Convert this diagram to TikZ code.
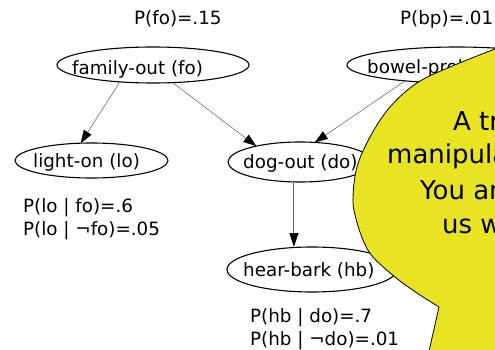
\documentclass[tikz,border=0pt]{standalone}
\usepackage{fontspec}
\setmainfont{DejaVu Sans}
\usetikzlibrary{shapes.geometric,arrows.meta}
\definecolor{bubyellow}{RGB}{232,228,34}
\begin{document}
\begin{tikzpicture}[x=1pt,y=-1pt,
  ell/.style={draw, ellipse, line width=1.1pt, outer sep=0pt, inner sep=0pt},
  lbl/.style={anchor=base west, inner sep=0pt, font=\fontsize{18.3}{22}\selectfont},
  bubtxt/.style={anchor=base west, inner sep=0pt, font=\fontsize{26}{30}\selectfont},
  arr/.style={draw=black!65, line width=0.5pt, -{Triangle[length=13pt,width=9pt,black]}},
  arrv/.style={draw=black!60, line width=1pt, -{Triangle[length=14pt,width=9pt,black]}},
  bubline/.style={draw=black, line width=0.8pt}
]
\useasboundingbox (0,0) rectangle (495,350);
\clip (0,0) rectangle (495,350);

% ellipses
\node[ell, minimum width=192pt, minimum height=36pt] (fo) at (153,65) {};
\node[ell, minimum width=153pt, minimum height=35pt] (lo) at (91.5,160.5) {};
\node[ell, minimum width=144pt, minimum height=40pt] (do) at (300,162) {};
\node[ell, minimum width=170pt, minimum height=45pt] (hb) at (312,269.5) {};
\node[ell, minimum width=220pt, minimum height=36pt] (bp) at (457,65) {};

% node texts
\node[lbl] (fot) at (72,75) {family-out (fo)};
\node[lbl] (lot) at (33,167) {light-on (lo)};
\node[lbl] (dot) at (243,168) {dog-out (do)};
\node[lbl] (hbt) at (243,276) {hear-bark (hb)};
\node[lbl] (bpt) at (367,74) {bowel-problem (bp)};

% probabilities
\node[lbl] (pfo) at (134,25) {P(fo)=.15};
\node[lbl] (pbp) at (400,25) {P(bp)=.01};
\node[lbl] (plo1) at (23,212) {P(lo | fo)=.6};
\node[lbl] (plo2) at (23,235) {P(lo | ¬fo)=.05};
\node[lbl] (phb1) at (250,322) {P(hb | do)=.7};
\node[lbl] (phb2) at (250,345) {P(hb | ¬do)=.01};

% connectors
\draw[arr] (fo.207) -- (lo.122);
\draw[arr] (fo.318) -- (do.160);
\draw[arr] (bp.197) -- (do.53);
\draw[arrv] (do.253) -- (do.253 |- hb.north);

% speech bubble
\fill[bubyellow] plot[smooth, tension=0.6] coordinates {(515,42) (495,49) (450,67) (417,83) (390,107) (370,137) (357,167) (353,197) (355,215) (363,240) (373,257) (395,277) (417,293) (439,307)} -- (427,360) -- (520,360) -- (520,30) -- cycle;
\draw[bubline] plot[smooth, tension=0.6] coordinates {(515,42) (495,49) (450,67) (417,83) (390,107) (370,137) (357,167) (353,197) (355,215) (363,240) (373,257) (395,277) (417,293) (439,307)} -- (427,360);

\node[bubtxt] (b1) at (453,131) {A tr};
\node[bubtxt] (b2) at (387,164) {manipula};
\node[bubtxt] (b3) at (420,199) {You ar};
\node[bubtxt] (b4) at (442,233) {us w};
\end{tikzpicture}
\end{document}
